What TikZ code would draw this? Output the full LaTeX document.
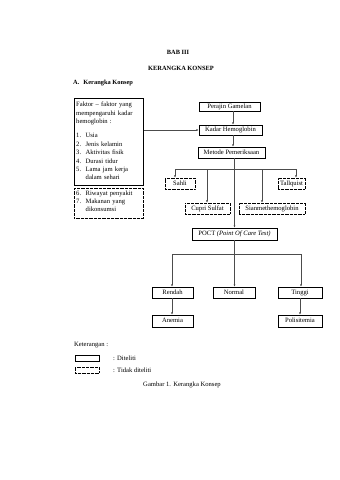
\documentclass[tikz,border=0pt]{standalone}
\usepackage{fontspec}
\setmainfont{Liberation Serif}
\usetikzlibrary{arrows.meta,positioning}
\begin{document}
\begin{tikzpicture}[x=1pt,y=-1pt,
  font=\fontsize{6.6}{8}\selectfont,
  box/.style={draw,line width=0.7pt,inner sep=0pt,align=center,text height=4.6pt,text depth=1.4pt},
  dbox/.style={draw,line width=0.55pt,dash pattern=on 0.5pt off 0.8pt,inner sep=0pt,align=center,text height=4.6pt,text depth=1.4pt},
  conn/.style={line width=0.5pt,draw=black!70},
  arr/.style={conn,-{Latex[length=2.3pt,width=2pt]}},
  txt/.style={inner sep=0pt,align=left,anchor=north west}]
\useasboundingbox (0,0) rectangle (340,480);
% titles
\node[font=\fontsize{6.4}{7}\selectfont\bfseries] (bab) at (178,52) {BAB III};
\node[font=\fontsize{6.4}{7}\selectfont\bfseries] (kk) at (181,68) {KERANGKA KONSEP};
\node[font=\fontsize{6.4}{7}\selectfont\bfseries,anchor=west,inner sep=0pt] (sub) at (73,83) {A.\hspace{4pt}Kerangka Konsep};
% left boxes
\node[draw,line width=0.7pt,inner sep=0pt,anchor=north west,minimum width=69pt,minimum height=87pt] (faktor) at (74,98) {};
\node[txt,text width=66pt] (faktorT) at (76,102)
 {Faktor -- faktor yang\\[0.5pt] mempengaruhi kadar\\[0.5pt] hemoglobin :\\[6pt]
  1.\hspace{4.5pt}Usia\\[0.4pt]
  2.\hspace{4.5pt}Jenis kelamin\\[0.4pt]
  3.\hspace{4.5pt}Aktivitas fisik\\[0.4pt]
  4.\hspace{4.5pt}Durasi tidur\\[0.4pt]
  5.\hspace{4.5pt}Lama jam kerja\\[0.4pt]
  \hspace{9.5pt}dalam sehari};
\node[draw,line width=0.55pt,dash pattern=on 0.5pt off 0.8pt,inner sep=0pt,anchor=north west,minimum width=69pt,minimum height=30pt] (faktor2) at (74,188) {};
\node[txt,text width=66pt] (faktor2T) at (76,190.5)
 {6.\hspace{4.5pt}Riwayat penyakit\\
  7.\hspace{4.5pt}Makanan yang\\
  \hspace{9.5pt}dikonsumsi};
% main chain
\node[box,minimum width=61pt,minimum height=9pt] (perajin) at (229.5,106.5) {Perajin Gamelan};
\node[box,minimum width=63pt,minimum height=10pt] (kadar) at (230.5,130) {Kadar Hemoglobin};
\node[box,minimum width=67pt,minimum height=11pt] (metode) at (231.5,152.5) {Metode Pemeriksaan};
\node[dbox,minimum width=30pt,minimum height=11pt] (sahli) at (180,183.5) {Sahli};
\node[dbox,minimum width=27pt,minimum height=11pt] (talk) at (291.5,183.5) {Tallquist};
\node[dbox,minimum width=45pt,minimum height=11pt] (cupri) at (207.5,208.5) {Cupri Sulfat};
\node[dbox,minimum width=66pt,minimum height=11pt] (sian) at (272,208.5) {Sianmethemoglobin};
\node[box,minimum width=85pt,minimum height=12pt] (poct) at (234.5,234) {POCT \textit{(Point Of Care Test)}};
\node[box,minimum width=41pt,minimum height=11pt] (rendah) at (172.5,292.5) {Rendah};
\node[box,minimum width=42pt,minimum height=11pt] (normal) at (234,292.5) {Normal};
\node[box,minimum width=44pt,minimum height=11pt] (tinggi) at (300,292.5) {Tinggi};
\node[box,minimum width=41pt,minimum height=12pt] (anemia) at (172.5,321) {Anemia};
\node[box,minimum width=44pt,minimum height=12pt] (poli) at (300,321) {Polisitemia};
% coordinates
\coordinate (busL) at (175,169);
\coordinate (busR) at (296,169);
\coordinate (bus2L) at (172,254);
\coordinate (bus2R) at (301,254);
% connectors
\draw[arr] (faktor.east |- kadar.west) -- (kadar.west);
\draw[arr] (perajin.south -| 233,0) -- (kadar.north -| 233,0);
\draw[arr] (kadar.south -| 233,0) -- (metode.north -| 233,0);
\draw[conn] (busL) -- (busR);
\draw[arr] (metode.south -| 234.5,0) -- (poct.north -| 234.5,0);
\draw[arr] (busL) -- (sahli.north -| busL);
\draw[arr] (busR) -- (talk.north -| busR);
\draw[arr] (207,169) -- (cupri.north -| 207,0);
\draw[arr] (262,169) -- (sian.north -| 262,0);
\draw[conn] (bus2L) -- (bus2R);
\draw[arr] (poct.south -| 234.5,0) -- (normal.north -| 234.5,0);
\draw[arr] (bus2L) -- (rendah.north -| bus2L);
\draw[arr] (bus2R) -- (tinggi.north -| bus2R);
\draw[arr] (rendah.south -| 172,0) -- (anemia.north -| 172,0);
\draw[arr] (tinggi.south -| 300,0) -- (poli.north -| 300,0);
% legend
\node[anchor=west,inner sep=0pt] (ket) at (74,345) {Keterangan :};
\node[draw,line width=0.7pt,inner sep=0pt,minimum width=24pt,minimum height=6pt] (lg1) at (87,358) {};
\node[draw,line width=0.55pt,dash pattern=on 0.5pt off 0.8pt,inner sep=0pt,minimum width=24pt,minimum height=6pt] (lg2) at (87,370) {};
\node[anchor=west,inner sep=0pt] (lt1) at (113,358) {: Diteliti};
\node[anchor=west,inner sep=0pt] (lt2) at (113,370) {: Tidak diteliti};
\node (cap) at (182,385) {Gambar 1. Kerangka Konsep};
\end{tikzpicture}
\end{document}
